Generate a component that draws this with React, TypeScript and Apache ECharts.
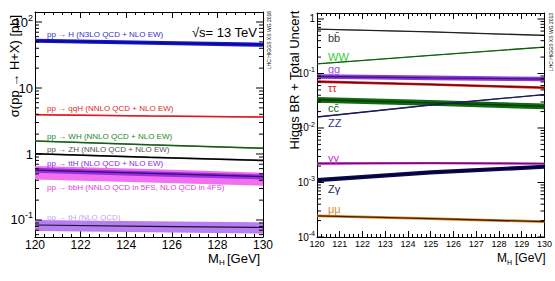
import { useEffect, useRef } from 'react';
import * as echarts from 'echarts';

const FONT = '"Liberation Sans", "DejaVu Sans", Arial, sans-serif';

// Higgs mass points (GeV)
const MASS = [120, 125, 130];

// Production cross sections at 13 TeV (pb): central, lower and upper edge of the band
const ggH = [52.2, 48.6, 45.3];
const ggHLo = [48.5, 45.2, 42.1];
const ggHHi = [56.0, 52.1, 48.6];
const qqH = [3.94, 3.78, 3.64];
const qqHLo = [3.86, 3.70, 3.56];
const qqHHi = [4.03, 3.87, 3.72];
const WH = [1.57, 1.38, 1.22];
const WHLo = [1.54, 1.35, 1.19];
const WHHi = [1.60, 1.41, 1.25];
const ZH = [1.01, 0.89, 0.80];
const ZHLo = [0.98, 0.865, 0.775];
const ZHHi = [1.04, 0.915, 0.825];
const ttH = [0.570, 0.507, 0.454];
const ttHLo = [0.52, 0.46, 0.41];
const ttHHi = [0.62, 0.55, 0.49];
const bbH = [0.55, 0.49, 0.43];
const bbHLo = [0.41, 0.37, 0.33];
const bbHHi = [0.66, 0.59, 0.52];
const tH = [0.084, 0.080, 0.077];
const tHLo = [0.068, 0.065, 0.062];
const tHHi = [0.100, 0.096, 0.092];

// Branching ratios: central, lower and upper edge of the band
const BRbb = [0.65, 0.58, 0.50];
const BRbbLo = [0.64, 0.571, 0.492];
const BRbbHi = [0.66, 0.589, 0.508];
const BRWW = [0.150, 0.215, 0.305];
const BRWWLo = [0.147, 0.211, 0.300];
const BRWWHi = [0.153, 0.219, 0.310];
const BRgg = [0.088, 0.083, 0.079];
const BRggLo = [0.080, 0.0755, 0.072];
const BRggHi = [0.097, 0.0915, 0.087];
const BRtautau = [0.071, 0.063, 0.055];
const BRtautauLo = [0.067, 0.0595, 0.052];
const BRtautauHi = [0.075, 0.0665, 0.058];
const BRcc = [0.033, 0.029, 0.025];
const BRccLo = [0.029, 0.0256, 0.022];
const BRccHi = [0.037, 0.0325, 0.028];
const BRZZ = [0.0159, 0.0264, 0.0411];
const BRZZLo = [0.0155, 0.0258, 0.0402];
const BRZZHi = [0.0163, 0.0270, 0.0420];
const BRgamgam = [0.00223, 0.00227, 0.00222];
const BRgamgamLo = [0.00212, 0.00216, 0.00211];
const BRgamgamHi = [0.00234, 0.00238, 0.00233];
const BRZgam = [0.00111, 0.00154, 0.00195];
const BRZgamLo = [0.00101, 0.00140, 0.00178];
const BRZgamHi = [0.00121, 0.00168, 0.00212];
const BRmumu = [0.000244, 0.000218, 0.000191];
const BRmumuLo = [0.000230, 0.000205, 0.000180];
const BRmumuHi = [0.000258, 0.000231, 0.000202];

// Axis ranges and labelled decades
const XS_MIN = 0.05525;
const XS_MAX = 141.8;
const BR_MIN = 1e-4;
const BR_MAX = 1.288;
const XS_DECADES = [0.1, 1, 10, 100];
const BR_DECADES = [1e-4, 1e-3, 1e-2, 0.1, 1];

const TICK_STYLE = { stroke: '#000', lineWidth: 1 };

function decadeMinors(min: number, max: number): number[] {
  const out: number[] = [];
  for (let e = Math.floor(Math.log10(min)); e <= Math.ceil(Math.log10(max)); e++) {
    for (let m = 2; m <= 9; m++) {
      const v = m * Math.pow(10, e);
      if (v > min && v < max) out.push(v);
    }
  }
  return out;
}

function band(xi: number, yi: number, lo: number[], hi: number[], fill: string, z: number) {
  return {
    type: 'custom',
    xAxisIndex: xi,
    yAxisIndex: yi,
    silent: true,
    z,
    data: MASS.map((m, i) => [m, lo[i], hi[i]]),
    renderItem: (params: any, api: any) => {
      if (params.dataIndex !== 0) return null;
      const upper = MASS.map((m, i) => api.coord([m, hi[i]]));
      const lower = MASS.map((m, i) => api.coord([m, lo[i]])).reverse();
      return {
        type: 'polygon',
        shape: { points: upper.concat(lower) },
        style: { fill, stroke: 'none' },
      };
    },
  };
}

function line(xi: number, yi: number, vals: number[], color: string, width: number, z: number) {
  return {
    type: 'line',
    xAxisIndex: xi,
    yAxisIndex: yi,
    silent: true,
    z,
    symbol: 'none',
    data: MASS.map((m, i) => [m, vals[i]]),
    lineStyle: { color, width },
  };
}

// minor ticks at 2..9 x 10^n on both vertical edges of a panel
function minorTicks(xi: number, yi: number, values: number[], len: number) {
  return {
    type: 'custom',
    xAxisIndex: xi,
    yAxisIndex: yi,
    silent: true,
    z: 20,
    data: values.map((v) => [125, v]),
    renderItem: (params: any, api: any) => {
      const y = api.coord([125, api.value(1)])[1];
      const cs = params.coordSys;
      return {
        type: 'group',
        children: [
          { type: 'line', shape: { x1: cs.x, y1: y, x2: cs.x + len, y2: y }, style: TICK_STYLE },
          { type: 'line', shape: { x1: cs.x + cs.width - len, y1: y, x2: cs.x + cs.width, y2: y }, style: TICK_STYLE },
        ],
      };
    },
  };
}

// major ticks and power-of-ten labels on the log axis
function decadeTicks(xi: number, yi: number, values: number[], len: number, size: number, supSize: number, lh: number) {
  return {
    type: 'custom',
    xAxisIndex: xi,
    yAxisIndex: yi,
    silent: true,
    clip: false,
    z: 20,
    data: values.map((v) => [125, v]),
    renderItem: (params: any, api: any) => {
      const v = api.value(1);
      const y = api.coord([125, v])[1];
      const cs = params.coordSys;
      const e = Math.round(Math.log10(v));
      const text = e === 0 ? '{b|1}' : e === 1 ? '{b|10}' : `{b|10}{s|${e}}`;
      return {
        type: 'group',
        children: [
          { type: 'line', shape: { x1: cs.x, y1: y, x2: cs.x + len, y2: y }, style: TICK_STYLE },
          { type: 'line', shape: { x1: cs.x + cs.width - len, y1: y, x2: cs.x + cs.width, y2: y }, style: TICK_STYLE },
          {
            type: 'text',
            x: cs.x - 2,
            y,
            style: {
              text,
              align: 'right',
              verticalAlign: 'middle',
              rich: {
                b: { fontSize: size, fontFamily: FONT, lineHeight: lh, fill: '#000' },
                s: { fontSize: supSize, fontFamily: FONT, verticalAlign: 'top', fill: '#000' },
              },
            },
          },
        ],
      };
    },
  };
}

function xAxis(grid: number, interval: number, pos: 'top' | 'bottom', labels: boolean, fontSize: number) {
  return {
    type: 'value',
    gridIndex: grid,
    min: 120,
    max: 130,
    interval,
    position: pos,
    axisLine: { show: true, onZero: false, lineStyle: { color: '#000', width: 1 } },
    axisTick: { show: true, inside: true, length: 6, lineStyle: { color: '#000', width: 1 } },
    minorTick: { show: true, splitNumber: 5, length: 3, lineStyle: { color: '#000', width: 1 } },
    splitLine: { show: false },
    axisLabel: { show: labels, color: '#000', fontSize, fontFamily: FONT, margin: 2 },
  };
}

function yAxis(grid: number, min: number, max: number, pos: 'left' | 'right') {
  return {
    type: 'log',
    logBase: 10,
    gridIndex: grid,
    min,
    max,
    position: pos,
    axisLine: { show: true, onZero: false, lineStyle: { color: '#000', width: 1 } },
    axisTick: { show: false },
    minorTick: { show: false },
    splitLine: { show: false },
    axisLabel: { show: false },
  };
}

function txt(x: number, y: number, text: string, fill: string, size: number, extra: any = {}) {
  return {
    type: 'text',
    x,
    y,
    silent: true,
    z: 30,
    ...extra,
    style: {
      text,
      fill,
      font: `${size}px ${FONT}`,
      align: extra.align || 'left',
      verticalAlign: 'middle',
    },
  };
}

export default function App() {
  const ref = useRef<HTMLDivElement>(null);

  useEffect(() => {
    if (!ref.current) return;
    const chart = echarts.init(ref.current, undefined, { renderer: 'svg' });

    const series: any[] = [
      // cross sections
      band(0, 0, bbHLo, bbHHi, '#f070f0', 2),
      band(0, 0, ttHLo, ttHHi, '#9a2fe0', 3),
      line(0, 0, ttH, '#3a0a6a', 1.2, 4),
      band(0, 0, tHLo, tHHi, '#b67ef0', 2),
      line(0, 0, tH, '#201030', 1.2, 4),
      band(0, 0, ZHLo, ZHHi, '#888888', 2),
      line(0, 0, ZH, '#000000', 1.5, 4),
      band(0, 0, WHLo, WHHi, '#5aa05a', 2),
      line(0, 0, WH, '#1a5a1a', 1.5, 4),
      band(0, 0, qqHLo, qqHHi, '#f06060', 2),
      line(0, 0, qqH, '#e01820', 1.5, 4),
      band(0, 0, ggHLo, ggHHi, '#1818d0', 2),
      line(0, 0, ggH, '#0a0a90', 1.5, 4),
      minorTicks(0, 0, decadeMinors(XS_MIN, XS_MAX), 4),
      decadeTicks(0, 0, XS_DECADES, 7, 13, 9, 18),
      // branching ratios
      band(2, 2, BRbbLo, BRbbHi, '#666666', 2),
      line(2, 2, BRbb, '#222222', 1.3, 4),
      band(2, 2, BRWWLo, BRWWHi, '#2a9a2a', 2),
      line(2, 2, BRWW, '#106010', 1.3, 4),
      band(2, 2, BRggLo, BRggHi, '#8a3ad8', 2),
      line(2, 2, BRgg, '#4a1080', 1.3, 4),
      band(2, 2, BRtautauLo, BRtautauHi, '#d82020', 2),
      line(2, 2, BRtautau, '#700808', 1.3, 4),
      band(2, 2, BRccLo, BRccHi, '#106a10', 2),
      line(2, 2, BRcc, '#043a04', 1.3, 4),
      band(2, 2, BRZZLo, BRZZHi, '#3a3a8a', 2),
      line(2, 2, BRZZ, '#1a1a5a', 1.3, 4),
      band(2, 2, BRgamgamLo, BRgamgamHi, '#d030d0', 2),
      line(2, 2, BRgamgam, '#701070', 1.3, 4),
      band(2, 2, BRZgamLo, BRZgamHi, '#0a0a50', 2),
      line(2, 2, BRZgam, '#000030', 1.3, 4),
      band(2, 2, BRmumuLo, BRmumuHi, '#e08a30', 2),
      line(2, 2, BRmumu, '#402000', 1.3, 4),
      minorTicks(2, 2, decadeMinors(BR_MIN, BR_MAX), 4),
      decadeTicks(2, 2, BR_DECADES, 7, 10, 7, 14),
    ];

    const graphic: any[] = [
      // left panel annotations
      txt(47, 34, 'pp → H (N3LO QCD + NLO EW)', '#3030c8', 8),
      txt(47, 108, 'pp → qqH (NNLO QCD + NLO EW)', '#e02828', 8),
      txt(47, 136, 'pp → WH (NNLO QCD + NLO EW)', '#228a22', 8),
      txt(47, 149, 'pp → ZH (NNLO QCD + NLO EW)', '#555555', 8),
      txt(47, 163, 'pp → ttH (NLO QCD + NLO EW)', '#8a2ae0', 8),
      txt(47, 187, 'pp → bbH (NNLO QCD in 5FS, NLO QCD in 4FS)', '#e040e0', 8),
      txt(47, 217, 'pp → tH (NLO QCD)', '#c8a2f0', 8),
      txt(257, 32, '√s= 13 TeV', '#000', 13, { align: 'right' }),
      txt(269, 40, 'LHC HIGGS XS WG 2016', '#000', 5, { align: 'center', rotation: Math.PI / 2 }),
      txt(14, 66, 'σ(pp → H+X) [pb]', '#000', 13, { align: 'center', rotation: Math.PI / 2 }),
      txt(208, 258, 'M', '#000', 13),
      txt(219, 262, 'H', '#000', 8),
      txt(227, 258, '[GeV]', '#000', 13),
      // right panel annotations
      txt(328, 38, 'bb̄', '#333333', 11),
      txt(328, 57, 'WW', '#33cc33', 11),
      txt(328, 69, 'gg', '#a050e0', 11),
      txt(328, 88, 'ττ', '#d82020', 11),
      txt(328, 108, 'cc̄', '#116611', 11),
      txt(328, 123, 'ZZ', '#333399', 11),
      txt(328, 158, 'γγ', '#cc33cc', 11),
      txt(328, 189, 'Zγ', '#222266', 11),
      txt(328, 209, 'μμ', '#e08a30', 11),
      txt(551, 42, 'LHC HIGGS XS WG 2013', '#000', 5, { align: 'center', rotation: Math.PI / 2 }),
      txt(294, 80, 'Higgs BR + Total Uncert', '#000', 13, { align: 'center', rotation: Math.PI / 2 }),
      txt(497, 258, 'M', '#000', 12),
      txt(507, 262, 'H', '#000', 7),
      txt(515, 258, '[GeV]', '#000', 12),
    ];

    chart.setOption({
      animation: false,
      backgroundColor: '#ffffff',
      grid: [
        { left: 35, top: 12, width: 228, height: 225 },
        { left: 317, top: 13, width: 230, height: 224 },
      ],
      xAxis: [
        xAxis(0, 2, 'bottom', true, 12),
        xAxis(0, 2, 'top', false, 12),
        xAxis(1, 1, 'bottom', true, 9),
        xAxis(1, 1, 'top', false, 9),
      ],
      yAxis: [
        yAxis(0, XS_MIN, XS_MAX, 'left'),
        yAxis(0, XS_MIN, XS_MAX, 'right'),
        yAxis(1, BR_MIN, BR_MAX, 'left'),
        yAxis(1, BR_MIN, BR_MAX, 'right'),
      ],
      series,
      graphic,
    });

    return () => chart.dispose();
  }, []);

  return (
    <div
      ref={ref}
      style={{ position: 'fixed', left: 0, top: 0, width: 555, height: 281, background: '#fff' }}
    />
  );
}
